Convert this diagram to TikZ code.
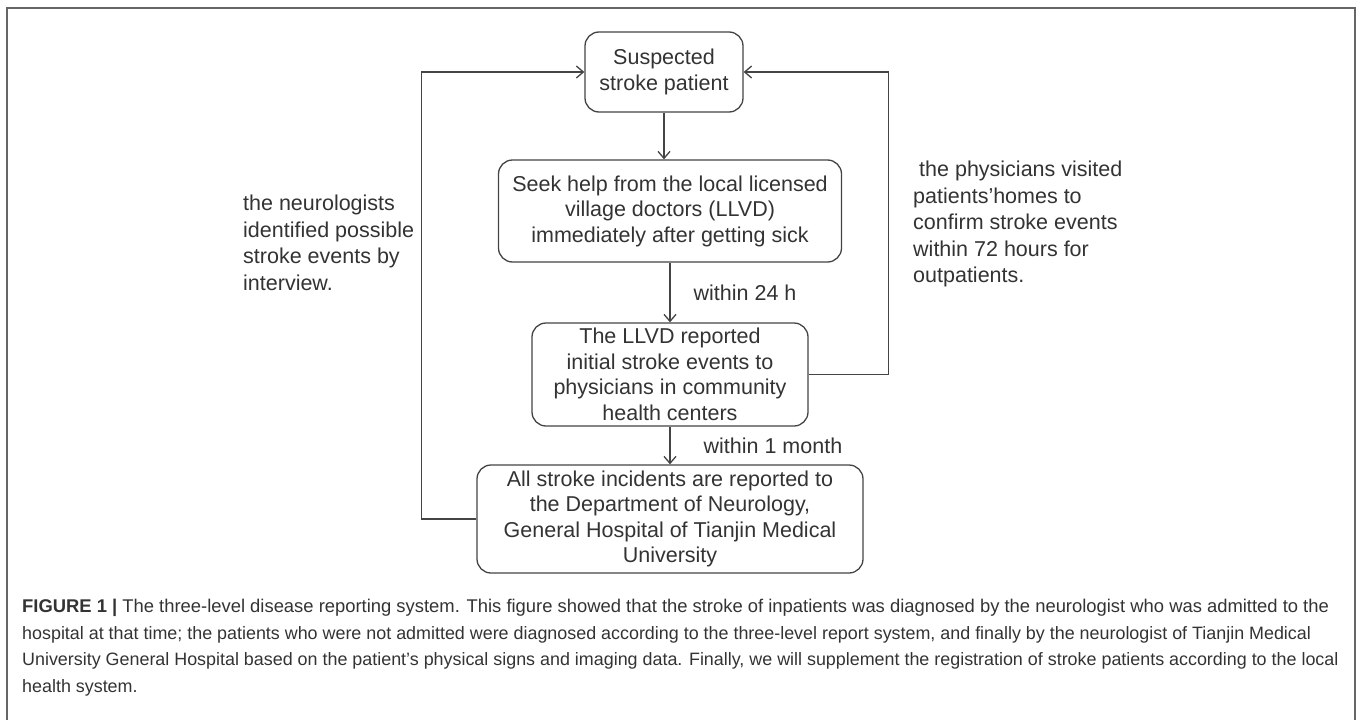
\documentclass[tikz,border=0pt]{standalone}
\usepackage{fontspec}
\setmainfont{Liberation Sans}
\usepackage{tikz}
\usetikzlibrary{arrows.meta, positioning}
\definecolor{linegray}{HTML}{444444}
\definecolor{textgray}{HTML}{333333}
\definecolor{framegray}{HTML}{666666}

\begin{document}
\begin{tikzpicture}[x=1pt, y=-1pt]
\tikzstyle{box} = [rectangle, rounded corners=14pt, draw=linegray, line width=1.3pt, text=textgray, align=center, font=\fontsize{21.5}{25.5}\selectfont, inner sep=0pt]
\tikzstyle{arrow} = [draw=linegray, line width=1.3pt, -{Straight Barb[length=7pt, width=12pt]}]
\tikzstyle{note} = [text=textgray, align=left, font=\fontsize{21.5}{26.5}\selectfont, anchor=west, inner sep=0pt]
\tikzstyle{lbl} = [text=textgray, font=\fontsize{21.5}{25.5}\selectfont, inner sep=0pt]

\useasboundingbox (0,0) rectangle (1357,720);
\draw[framegray, line width=1.6pt] (7,720) -- (7,8) -- (1355,8) -- (1355,720);

\node[box, minimum width=158pt, minimum height=80pt] (patient) at (664,72) {Suspected\\stroke patient};
\node[box, minimum width=343pt, minimum height=102pt, below of=patient, node distance=139pt, xshift=6pt] (seek) {Seek help from the local licensed\\village doctors (LLVD)\\immediately after getting sick};
\node[box, minimum width=276pt, minimum height=103pt, below of=seek, node distance=163.5pt] (report) {The LLVD reported\\initial stroke events to\\physicians in community\\health centers};
\node[box, minimum width=386pt, minimum height=108pt, below of=report, node distance=144.5pt] (dept) {All stroke incidents are reported to\\the Department of Neurology,\\General Hospital of Tianjin Medical\\University};

\node[note] (neuro) at (243,243) {the neurologists\\identified possible\\stroke events by\\interview.};
\node[note] (visit) at (913,224) {\hspace{6pt}the physicians visited\\patients’homes to\\confirm stroke events\\within 72 hours for\\outpatients.};

\draw[arrow] (patient) -- (patient |- seek.north);
\draw[arrow] (seek) -- node[lbl, right=23pt] {within 24 h} (report);
\draw[arrow] (report) -- node[lbl, right=33pt] {within 1 month} (dept);
\draw[arrow] (report.east) -- ++(80,0) |- (patient.east);
\draw[arrow] (dept.west) -- ++(-55,0) |- (patient.west);

\node[anchor=north west, inner sep=0pt, align=left, text=textgray, font=\fontsize{17.9}{26.5}\selectfont] (caption) at (22,599) {{\fontsize{18.4}{26.5}\selectfont\textbf{FIGURE 1 |} The three-level disease reporting system. This figure showed that the stroke of inpatients was diagnosed by the neurologist who was admitted to the}\\hospital at that time; the patients who were not admitted were diagnosed according to the three-level report system, and finally by the neurologist of Tianjin Medical\\University General Hospital based on the patient’s physical signs and imaging data. Finally, we will supplement the registration of stroke patients according to the local\\health system.};
\end{tikzpicture}
\end{document}
